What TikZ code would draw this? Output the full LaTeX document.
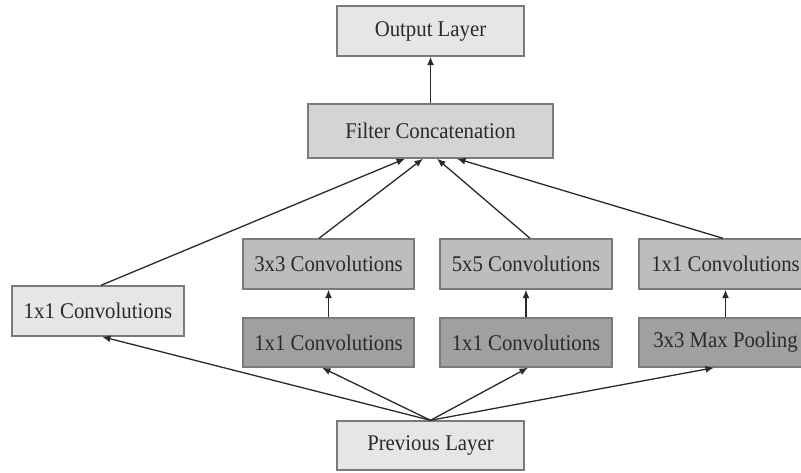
\documentclass[tikz,border=0pt]{standalone}
\usepackage{fontspec}
\setmainfont{Liberation Serif}
\usetikzlibrary{arrows.meta,calc}
\definecolor{lightbox}{HTML}{E6E6E6}
\definecolor{midbox}{HTML}{D4D4D4}
\definecolor{convbox}{HTML}{BDBDBD}
\definecolor{darkbox}{HTML}{A0A0A0}
\definecolor{edgegray}{HTML}{7A7A7A}
\definecolor{txt}{HTML}{2A2A2A}
\definecolor{arrowc}{HTML}{2A2A2A}
\newcommand{\tallt}[1]{\scalebox{1}[1.08]{#1}}
\begin{document}
\begin{tikzpicture}[x=1pt,y=-1pt,
  box/.style={draw=edgegray,line width=1.4pt,inner sep=0pt,font=\fontsize{20.8}{24}\selectfont,text=txt},
  arr/.style={draw=arrowc,line width=1.3pt,-{Latex[length=8.5pt,width=7pt]}}]
\fill[white] (0,0) rectangle (801,473);
\clip (0,0) rectangle (801,473);
\node[box,fill=lightbox,minimum width=187pt,minimum height=50pt] (out) at (430.5,31) {\tallt{Output Layer}};
\node[box,fill=midbox,minimum width=245pt,minimum height=54pt] (filt) at (430.5,131) {\tallt{Filter Concatenation}};
\node[box,fill=lightbox,minimum width=187pt,minimum height=49pt] (prev) at (430.5,445.5) {\tallt{Previous Layer}};
\node[box,fill=lightbox,minimum width=172pt,minimum height=50pt] (c1) at (98,311) {\tallt{1x1 Convolutions}};
\node[box,fill=convbox,minimum width=171pt,minimum height=50pt] (c3) at (328.5,264) {\tallt{3x3 Convolutions}};
\node[box,fill=convbox,minimum width=172pt,minimum height=50pt] (c5) at (526,264) {\tallt{5x5 Convolutions}};
\node[box,fill=convbox,minimum width=173pt,minimum height=50pt] (cp) at (725.5,264) {\tallt{1x1 Convolutions}};
\node[box,fill=darkbox,minimum width=171pt,minimum height=49pt] (r3) at (328.5,342.5) {\tallt{1x1 Convolutions}};
\node[box,fill=darkbox,minimum width=172pt,minimum height=49pt] (r5) at (526,342.5) {\tallt{1x1 Convolutions}};
\node[box,fill=darkbox,minimum width=173pt,minimum height=49pt] (mp) at (725.5,342.5) {\tallt{3x3 Max Pooling}};
% filter to output
\draw[arr] (filt.north) -- (out.south);
% branches to filter
\draw[arr] ($(c1.north)+(3,0)$) -- ($(filt.south)+(-25.5,0)$);
\draw[arr] ($(c3.north)+(-9.5,0)$) -- ($(filt.south)+(-7.5,0)$);
\draw[arr] ($(c5.north)+(4,0)$) -- ($(filt.south)+(6.5,0)$);
\draw[arr] ($(cp.north)+(-2.5,0)$) -- ($(filt.south)+(26.5,0)$);
% vertical inside branches
\draw[arr] (r3.north) -- (c3.south);
\draw[arr] (r5.north) -- (c5.south);
\draw[arr] (mp.north) -- (cp.south);
% previous to branches
\draw[arr] (prev.north) -- ($(c1.south)+(4,0)$);
\draw[arr] (prev.north) -- ($(r3.south)+(-6.5,0)$);
\draw[arr] (prev.north) -- ($(r5.south)+(2,0)$);
\draw[arr] (prev.north) -- ($(mp.south)+(-11.5,0)$);
\end{tikzpicture}
\end{document}
